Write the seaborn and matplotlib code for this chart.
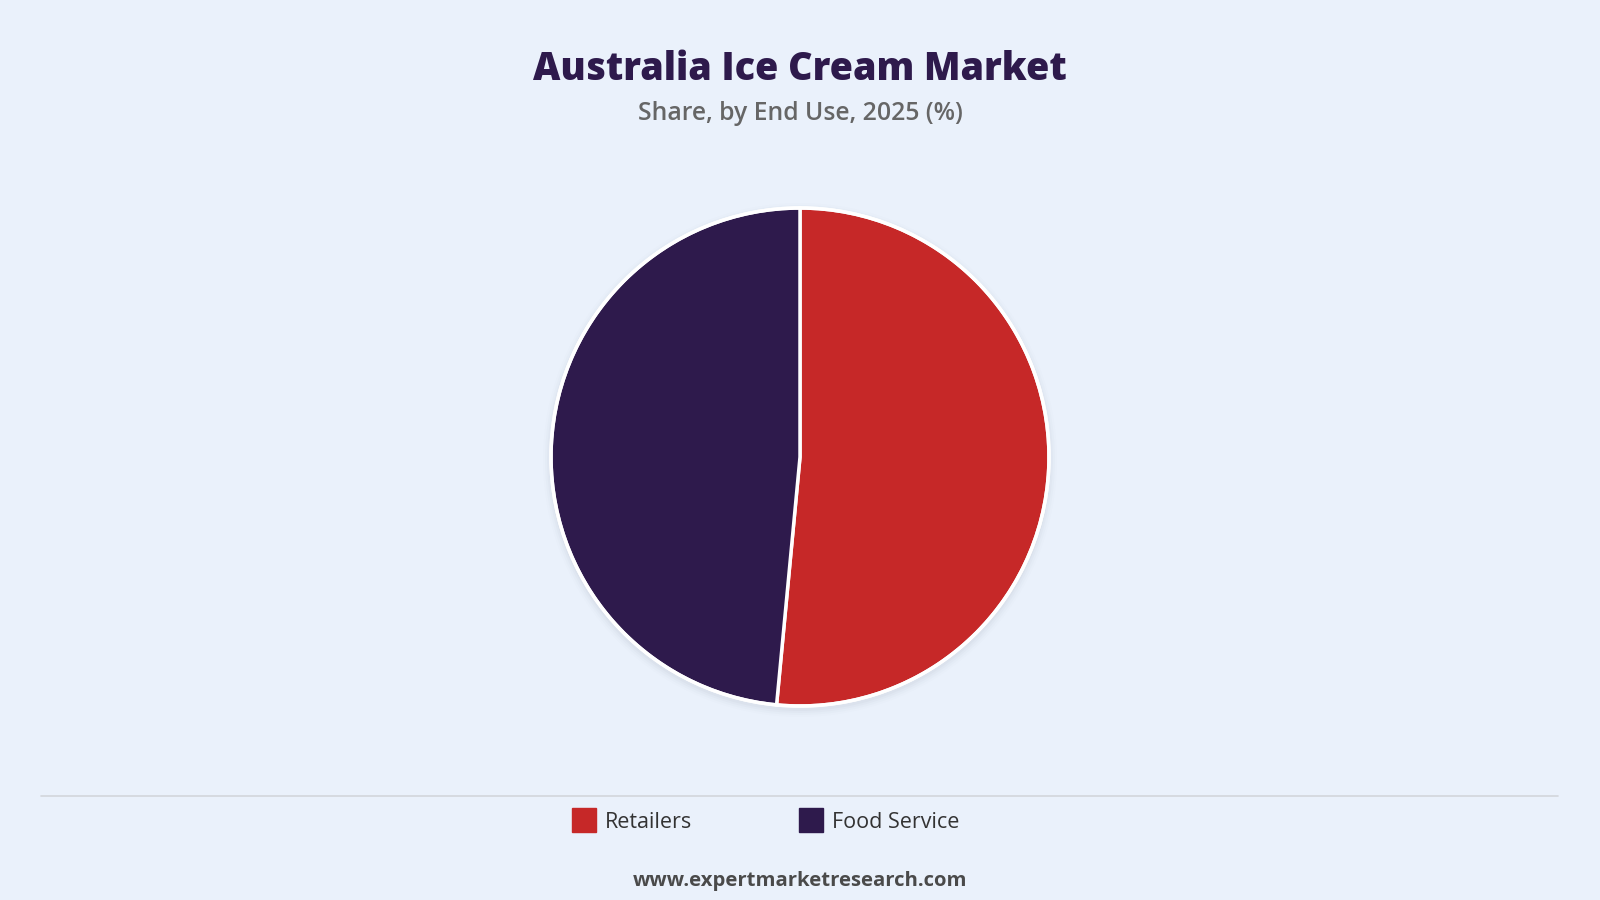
import seaborn as sns
from matplotlib import pyplot as plt
from matplotlib.lines import Line2D
from matplotlib.patches import Circle

# data
segments = ["Retailers", "Food Service"]
shares = [51.5, 48.5]
seg_colors = ["#C62828", "#2E1A4C"]

title = "Australia Ice Cream Market"
subtitle = "Share, by End Use, 2025 (%)"
source = "www.expertmarketresearch.com"

BG = "#EAF1FB"


def draw_chart():
    sns.set_theme(style="white")
    plt.rcParams["font.family"] = ["Open Sans", "DejaVu Sans"]

    fig = plt.figure(figsize=(16, 9), dpi=100, facecolor=BG)

    # pie area: centre (800, 457) px, radius ~249 px
    r_px = 249
    pad = 1.05
    ax = fig.add_axes([(800 - r_px * pad) / 1600, (900 - 457 - r_px * pad) / 900,
                       2 * r_px * pad / 1600, 2 * r_px * pad / 900])
    ax.set_facecolor(BG)

    ax.pie(shares, colors=seg_colors, startangle=90, counterclock=False,
           radius=1.0, wedgeprops=dict(edgecolor="white", linewidth=2.5))
    ax.add_patch(Circle((0, 0), 1.0, fill=False, edgecolor="white", lw=2.5, zorder=5))

    # soft shadow behind the pie
    for i, a in enumerate([0.06, 0.045, 0.03, 0.02]):
        ax.add_patch(Circle((0.0, -0.012), 1.0 + 0.008 * (i + 1),
                            color="#8a94a6", alpha=a, lw=0, zorder=0))

    ax.set_xlim(-pad, pad)
    ax.set_ylim(-pad, pad)
    ax.set_aspect("equal")
    ax.axis("off")

    fig.text(0.5, 1 - 69 / 900, title, ha="center", va="center",
             fontsize=27.2, fontweight="heavy", color="#2E1A4C")
    fig.text(0.5, 1 - 113 / 900, subtitle, ha="center", va="center",
             fontsize=17.8, fontweight="semibold", color="#666666")

    fig.add_artist(Line2D([0.0255, 0.974], [1 - 796 / 900] * 2,
                          color="#D3D6DB", lw=1.2))

    handles = [Line2D([0], [0], marker="s", linestyle="", markersize=17,
                      markerfacecolor=c, markeredgecolor=c) for c in seg_colors]
    fig.legend(handles, segments, loc="center", bbox_to_anchor=(0.479, 1 - 822 / 900),
               ncol=2, frameon=False, fontsize=15.5, handlelength=1.0,
               handletextpad=0.5, columnspacing=5.0, labelcolor="#333333")

    fig.text(0.5, 1 - 881 / 900, source, ha="center", va="center",
             fontsize=14.6, fontweight="bold", color="#4a4a4a")

    fig.savefig("out.png", dpi=100, facecolor=BG)


if __name__ == "__main__":
    draw_chart()
